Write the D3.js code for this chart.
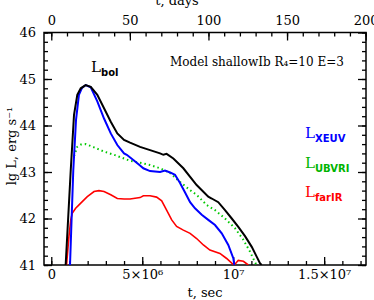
<!DOCTYPE html>
<html>
<head>
<meta charset="utf-8">
<script src="https://cdn.jsdelivr.net/npm/d3@7"></script>
<style>
  body { margin: 0; background: #fff; }
  svg text { font-family: "DejaVu Serif", serif; fill: #000; }
</style>
</head>
<body>
<svg id="chart" width="374" height="300"></svg>
<script>
// time in units of 1e6 sec, luminosity as lg L [erg/s]
const bolT = [0.79, 1.07, 1.25, 1.43, 1.62, 1.89, 2.17, 2.53, 2.90, 3.27, 3.63, 4.00, 4.33, 4.88, 5.43, 5.98, 6.16, 6.34, 6.71, 7.26, 7.99, 8.63, 8.82, 9.18, 9.55, 9.92, 10.28, 10.65, 11.02, 11.29, 11.47, 11.56];
const bolL = [41.0, 43.04, 44.23, 44.66, 44.80, 44.87, 44.83, 44.66, 44.37, 44.08, 43.83, 43.69, 43.63, 43.54, 43.47, 43.40, 43.37, 43.39, 43.29, 43.08, 42.72, 42.47, 42.43, 42.35, 42.18, 42.00, 41.82, 41.62, 41.39, 41.18, 41.04, 41.0];

const euvT = [1.03, 1.21, 1.36, 1.52, 1.69, 1.89, 2.17, 2.53, 2.90, 3.27, 3.63, 4.00, 4.15, 4.51, 4.88, 5.06, 5.43, 5.98, 6.25, 6.53, 6.80, 7.07, 7.34, 7.63, 7.90, 8.27, 8.63, 9.00, 9.37, 9.73, 10.01, 10.06];
const euvL = [41.0, 43.04, 44.12, 44.66, 44.81, 44.87, 44.82, 44.52, 44.15, 43.83, 43.58, 43.40, 43.37, 43.26, 43.14, 43.08, 43.02, 43.00, 43.03, 42.99, 42.94, 42.77, 42.57, 42.35, 42.22, 42.08, 41.97, 41.86, 41.68, 41.43, 41.14, 41.0];

const optT = [1.25, 1.43, 1.63, 1.89, 2.35, 2.90, 3.45, 4.00, 4.33, 4.88, 5.43, 5.98, 6.53, 7.07, 7.63, 7.99, 8.54, 9.00, 9.55, 10.10, 10.56, 10.92, 11.20, 11.29];
const optL = [43.34, 43.54, 43.59, 43.60, 43.53, 43.44, 43.37, 43.29, 43.24, 43.20, 43.15, 43.08, 42.98, 42.79, 42.61, 42.51, 42.29, 42.18, 42.00, 41.79, 41.54, 41.29, 41.06, 41.0];

const irT = [0.84, 0.97, 1.07, 1.15, 1.34, 1.62, 1.98, 2.35, 2.62, 2.90, 3.27, 3.63, 4.00, 4.33, 4.88, 5.06, 5.43, 5.79, 6.07, 6.34, 6.62, 6.89, 7.26, 7.63, 7.99, 8.36, 8.72, 9.27, 9.64, 9.92, 10.06, 10.28, 10.56, 10.83];
const irL = [41.0, 41.61, 41.97, 42.11, 42.22, 42.33, 42.47, 42.58, 42.60, 42.58, 42.51, 42.43, 42.42, 42.42, 42.45, 42.49, 42.49, 42.46, 42.38, 42.18, 41.97, 41.83, 41.75, 41.68, 41.57, 41.43, 41.32, 41.25, 41.14, 41.04, 41.0, 41.10, 41.08, 41.0];

const secMajor = [0, 5, 10, 15];
const secLabels = ["0", "5×10⁶", "10⁷", "1.5×10⁷"];
const dayMajor = [0, 50, 100, 150, 200];
const lgMajor = [41, 42, 43, 44, 45, 46];

const svg = d3.select("#chart");
const x0 = 44, x1 = 366, y0 = 32.5, y1 = 265;

const x = d3.scaleLinear().domain([-0.4, 17.3]).range([x0, x1]);
const xd = d3.scaleLinear().domain([-0.4e6 / 86400, 17.3e6 / 86400]).range([x0, x1]);
const y = d3.scaleLinear().domain([41, 46]).range([y1, y0]);

svg.append("clipPath").attr("id", "clip")
  .append("rect").attr("x", x0).attr("y", y0).attr("width", x1 - x0).attr("height", y1 - y0);

function axisPair(axisFn, scale, major, minor, pos, labels) {
  const gMin = svg.append("g").attr("transform", pos)
    .call(axisFn(scale).tickValues(minor).tickSize(-4).tickFormat(""));
  const gMaj = svg.append("g").attr("transform", pos)
    .call(axisFn(scale).tickValues(major).tickSize(-8).tickPadding(labels ? 14 : 0)
      .tickFormat(labels ? (d, i) => labels[i] : ""));
  [gMin, gMaj].forEach(g => {
    g.select(".domain").remove();
    g.selectAll(".tick line").attr("stroke", "#000").attr("stroke-width", 1.3);
  });
  gMaj.selectAll("text").attr("font-size", 13).attr("font-family", "DejaVu Serif").attr("fill", "#000");
  return gMaj;
}

const secMinor = d3.range(0, 18, 1);
const dayMinor = d3.range(0, 201, 10);
const lgMinor = d3.range(41, 46.01, 0.2).map(v => +v.toFixed(1));

const gb = axisPair(d3.axisBottom, x, secMajor, secMinor, `translate(0,${y1})`, secLabels);
gb.selectAll("text").attr("dy", "0.71em").attr("y", 5);
const gt = axisPair(d3.axisTop, xd, dayMajor, dayMinor, `translate(0,${y0})`, dayMajor.map(String));
gt.selectAll("text").attr("y", -8);
const gl = axisPair(d3.axisLeft, y, lgMajor, lgMinor, `translate(${x0},0)`, lgMajor.map(String));
gl.selectAll("text").attr("x", -8);
axisPair(d3.axisRight, y, lgMajor, lgMinor, `translate(${x1},0)`, null);

svg.append("rect").attr("x", x0).attr("y", y0).attr("width", x1 - x0).attr("height", y1 - y0)
  .attr("fill", "none").attr("stroke", "#000").attr("stroke-width", 1.5);

const line = d3.line().x(d => x(d[0])).y(d => y(d[1]));
const plot = svg.append("g").attr("clip-path", "url(#clip)");

function draw(ts, ls, color, width, dash) {
  plot.append("path")
    .datum(ts.map((t, i) => [t, ls[i]]))
    .attr("d", line)
    .attr("fill", "none")
    .attr("stroke", color)
    .attr("stroke-width", width)
    .attr("stroke-dasharray", dash || null);
}
draw(irT, irL, "#ff0000", 1.6);
draw(optT, optL, "#00c800", 2, "1.5,3");
draw(euvT, euvL, "#0000ff", 2);
draw(bolT, bolL, "#000000", 2);

// axis titles
svg.append("text").attr("x", 177).attr("y", 5).attr("text-anchor", "middle")
  .attr("font-size", 13).text("t, days");
svg.append("text").attr("x", 205).attr("y", 297).attr("text-anchor", "middle")
  .attr("font-size", 13).text("t, sec");
svg.append("text").attr("transform", "translate(16,146) rotate(-90)").attr("text-anchor", "middle")
  .attr("font-size", 13).text("lg L, erg s⁻¹");

// labels
function subLabel(px, py, sub, color) {
  const t = svg.append("text").attr("x", px).attr("y", py).attr("fill", color)
    .attr("font-size", 15).style("fill", color);
  t.append("tspan").text("L");
  t.append("tspan").attr("dy", 4).attr("font-size", 10).attr("font-weight", "bold")
    .attr("font-family", "DejaVu Sans").text(sub);
}
subLabel(91, 72, "bol", "#000");
subLabel(305, 138, "XEUV", "#0000ff");
subLabel(305, 168, "UBVRI", "#00b400");
subLabel(305, 197, "farIR", "#ff0000");

svg.append("text").attr("x", 170).attr("y", 66).attr("font-size", 12)
  .text("Model shallowIb  R₄=10 E=3");
</script>
</body>
</html>
